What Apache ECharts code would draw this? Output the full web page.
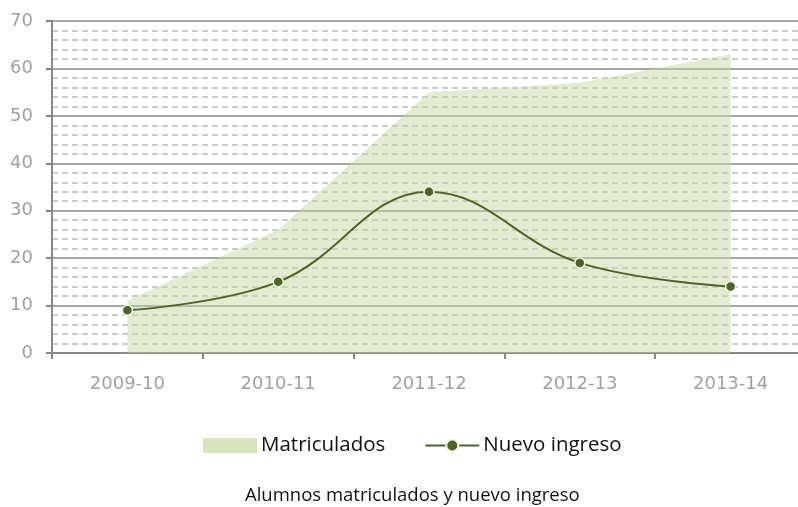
<!DOCTYPE html>
<html>
<head>
<meta charset="utf-8">
<script src="https://cdn.jsdelivr.net/npm/echarts@6/dist/echarts.min.js"></script>
<style>
  html, body { margin: 0; padding: 0; background: #fff; }
  #chart { width: 798px; height: 507px; }
</style>
</head>
<body>
<div id="chart"></div>
<script>
// datos
var cursos = ["2009-10", "2010-11", "2011-12", "2012-13", "2013-14"];
var matriculados = [11, 26, 55, 57, 63];
var nuevoIngreso = [9, 15, 34, 19, 14];

var font = "'Open Sans', 'Noto Sans', sans-serif";
var axisFont = "'DejaVu Sans', sans-serif";
var chart = echarts.init(document.getElementById("chart"));

chart.setOption({
  animation: false,
  backgroundColor: "#fff",
  title: {
    text: "Alumnos matriculados y nuevo ingreso",
    left: 240,
    top: 481,
    textStyle: { fontFamily: font, fontSize: 18.5, fontWeight: "normal", color: "#111" }
  },
  legend: {
    top: 430,
    left: 198,
    itemGap: 39,
    itemWidth: 54,
    itemHeight: 15,
    textStyle: { fontFamily: font, fontSize: 20.5, color: "#111", padding: [0, 0, 0, -1] },
    data: [
      { name: "Matriculados", icon: "rect" },
      { name: "Nuevo ingreso" }
    ]
  },
  grid: { left: 52, width: 754, top: 21, height: 332, outerBoundsMode: "none" },
  xAxis: {
    type: "category",
    data: cursos,
    boundaryGap: true,
    axisLine: { lineStyle: { color: "#888", width: 2 } },
    axisTick: { show: true, length: 6, lineStyle: { color: "#888", width: 2 } },
    axisLabel: { fontFamily: axisFont, fontSize: 18, color: "#a0a0a0", margin: 22 }
  },
  yAxis: {
    type: "value",
    min: 0,
    max: 70,
    interval: 10,
    axisLine: { show: true, lineStyle: { color: "#888", width: 2 } },
    axisTick: { show: true, length: 6, lineStyle: { color: "#888", width: 2 } },
    axisLabel: { fontFamily: axisFont, fontSize: 18, color: "#a0a0a0", margin: 19 },
    splitLine: { show: true, lineStyle: { color: "#888", width: 1.5 } },
    minorTick: { show: false, splitNumber: 5 },
    minorSplitLine: { show: true, lineStyle: { color: "#bbb", width: 1.5, type: [6, 4] } }
  },
  series: [
    {
      name: "Matriculados",
      type: "line",
      data: matriculados,
      symbol: "none",
      lineStyle: { width: 0 },
      itemStyle: { color: "#d7e4bd" },
      areaStyle: { color: "rgba(196,215,155,0.68)", origin: "start" },
      z: 2
    },
    {
      name: "Nuevo ingreso",
      type: "line",
      data: nuevoIngreso,
      smooth: 0.4,
      symbol: "circle",
      symbolSize: 10,
      lineStyle: { color: "#4f6228", width: 2 },
      itemStyle: { color: "#4f6228", borderColor: "#eef3e2", borderWidth: 1.5 },
      z: 3
    }
  ]
});
</script>
</body>
</html>
